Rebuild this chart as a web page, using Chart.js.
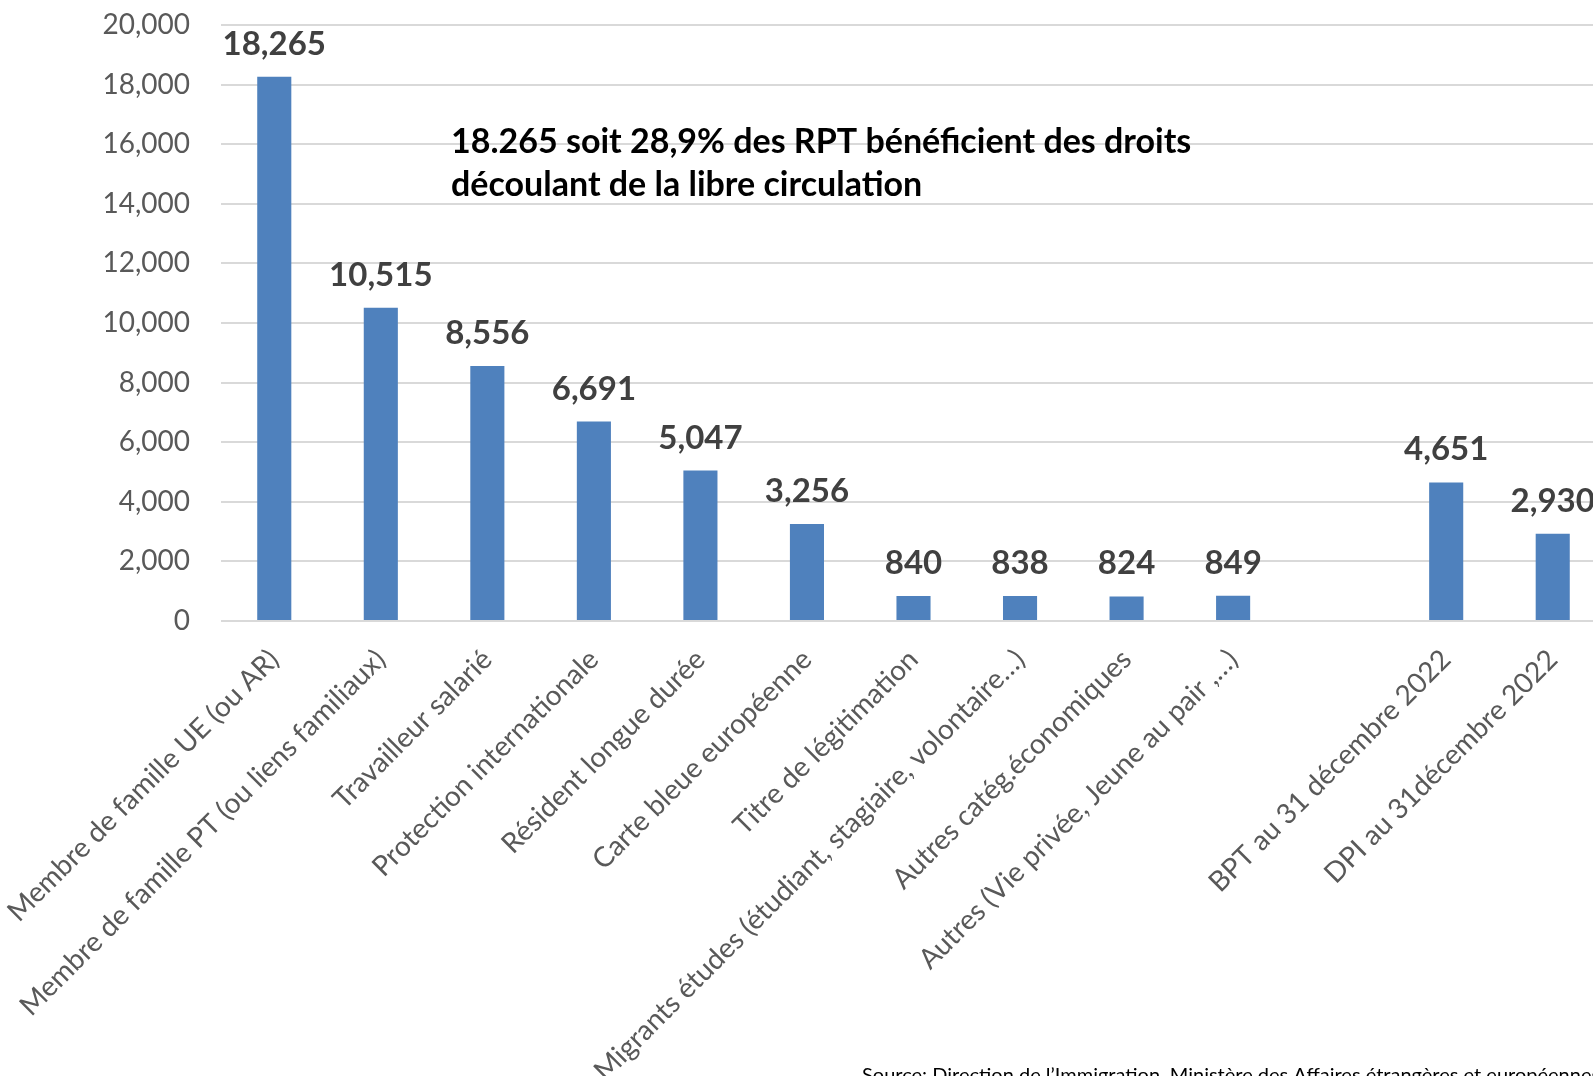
<!DOCTYPE html>
<html>
<head>
<meta charset="utf-8">
<script src="https://cdn.jsdelivr.net/npm/chart.js@4.4.1/dist/chart.umd.min.js"></script>
<style>
  html, body { margin: 0; padding: 0; background: #ffffff; overflow: hidden; }
  #wrap { position: relative; width: 1640px; height: 1076px; }
</style>
</head>
<body>
<div id="wrap"><canvas id="c" width="1640" height="1076"></canvas></div>
<script>
const categories = [
  "Membre de famille UE (ou AR)",
  "Membre de famille PT (ou liens familiaux)",
  "Travailleur salarié",
  "Protection internationale",
  "Résident longue durée",
  "Carte bleue européenne",
  "Titre de légitimation",
  "Migrants études (étudiant, stagiaire, volontaire…)",
  "Autres catég.économiques",
  "Autres (Vie privée, Jeune au pair ,…)",
  "",
  "BPT au 31 décembre 2022",
  "DPI au 31décembre 2022"
];
const values = [18265, 10515, 8556, 6691, 5047, 3256, 840, 838, 824, 849, null, 4651, 2930];
const yTicks = [0, 2000, 4000, 6000, 8000, 10000, 12000, 14000, 16000, 18000, 20000];
const annotationLines = [
  "18.265 soit 28,9% des RPT bénéficient des droits",
  "découlant de la libre circulation"
];
const sourceText = "Source: Direction de l’Immigration, Ministère des Affaires étrangères et européennes";

const FONT = "Lato, 'Open Sans', 'DejaVu Sans', sans-serif";

const labelPlugin = {
  id: 'valueLabels',
  afterDatasetsDraw(chart) {
    const ctx = chart.ctx;
    const meta = chart.getDatasetMeta(0);
    ctx.save();
    ctx.font = "bold 33px " + FONT;
    ctx.fillStyle = "#404040";
    ctx.textAlign = "center";
    ctx.textBaseline = "alphabetic";
    meta.data.forEach((bar, i) => {
      const v = values[i];
      if (v === null || v === undefined) return;
      ctx.fillText(v.toLocaleString('en-US'), bar.x, bar.y - 22);
    });
    ctx.restore();
  }
};

const textPlugin = {
  id: 'extraText',
  afterDraw(chart) {
    const ctx = chart.ctx;
    ctx.save();
    ctx.font = "bold 34px " + FONT;
    ctx.fillStyle = "#000000";
    ctx.textAlign = "left";
    ctx.textBaseline = "alphabetic";
    ctx.fillText(annotationLines[0], 451, 153);
    ctx.fillText(annotationLines[1], 451, 196);
    ctx.font = "20px " + FONT;
    ctx.fillStyle = "#000000";
    ctx.textBaseline = "top";
    ctx.fillText(sourceText, 862, 1066);
    ctx.restore();
  }
};

new Chart(document.getElementById('c'), {
  type: 'bar',
  data: {
    labels: categories,
    datasets: [{
      data: values,
      backgroundColor: '#4f81bd',
      borderWidth: 0,
      categoryPercentage: 1.0,
      barPercentage: 0.32
    }]
  },
  options: {
    responsive: false,
    maintainAspectRatio: false,
    devicePixelRatio: 1,
    animation: false,
    layout: { padding: { top: 25, right: 34, left: 0, bottom: 0 } },
    plugins: {
      legend: { display: false },
      tooltip: { enabled: false },
      title: { display: false }
    },
    scales: {
      x: {
        grid: { display: false, drawTicks: false },
        border: { display: false },
        ticks: {
          autoSkip: false,
          maxRotation: 45,
          minRotation: 45,
          padding: 22,
          color: '#595959',
          font: { family: FONT, size: 28 }
        },
        afterFit(s) { s.height = 455; s.paddingLeft = 0; s.paddingRight = 0; }
      },
      y: {
        min: 0,
        max: 20000,
        afterBuildTicks(s) { s.ticks = yTicks.map(v => ({ value: v })); },
        grid: { color: '#d9d9d9', lineWidth: 2, drawTicks: false },
        border: { display: false },
        ticks: {
          padding: 31,
          color: '#595959',
          font: { family: FONT, size: 28 },
          callback: (v) => Number(v).toLocaleString('en-US')
        },
        afterFit(s) { s.width = 221; s.paddingTop = 0; s.paddingBottom = 0; }
      }
    }
  },
  plugins: [labelPlugin, textPlugin]
});
</script>
</body>
</html>
